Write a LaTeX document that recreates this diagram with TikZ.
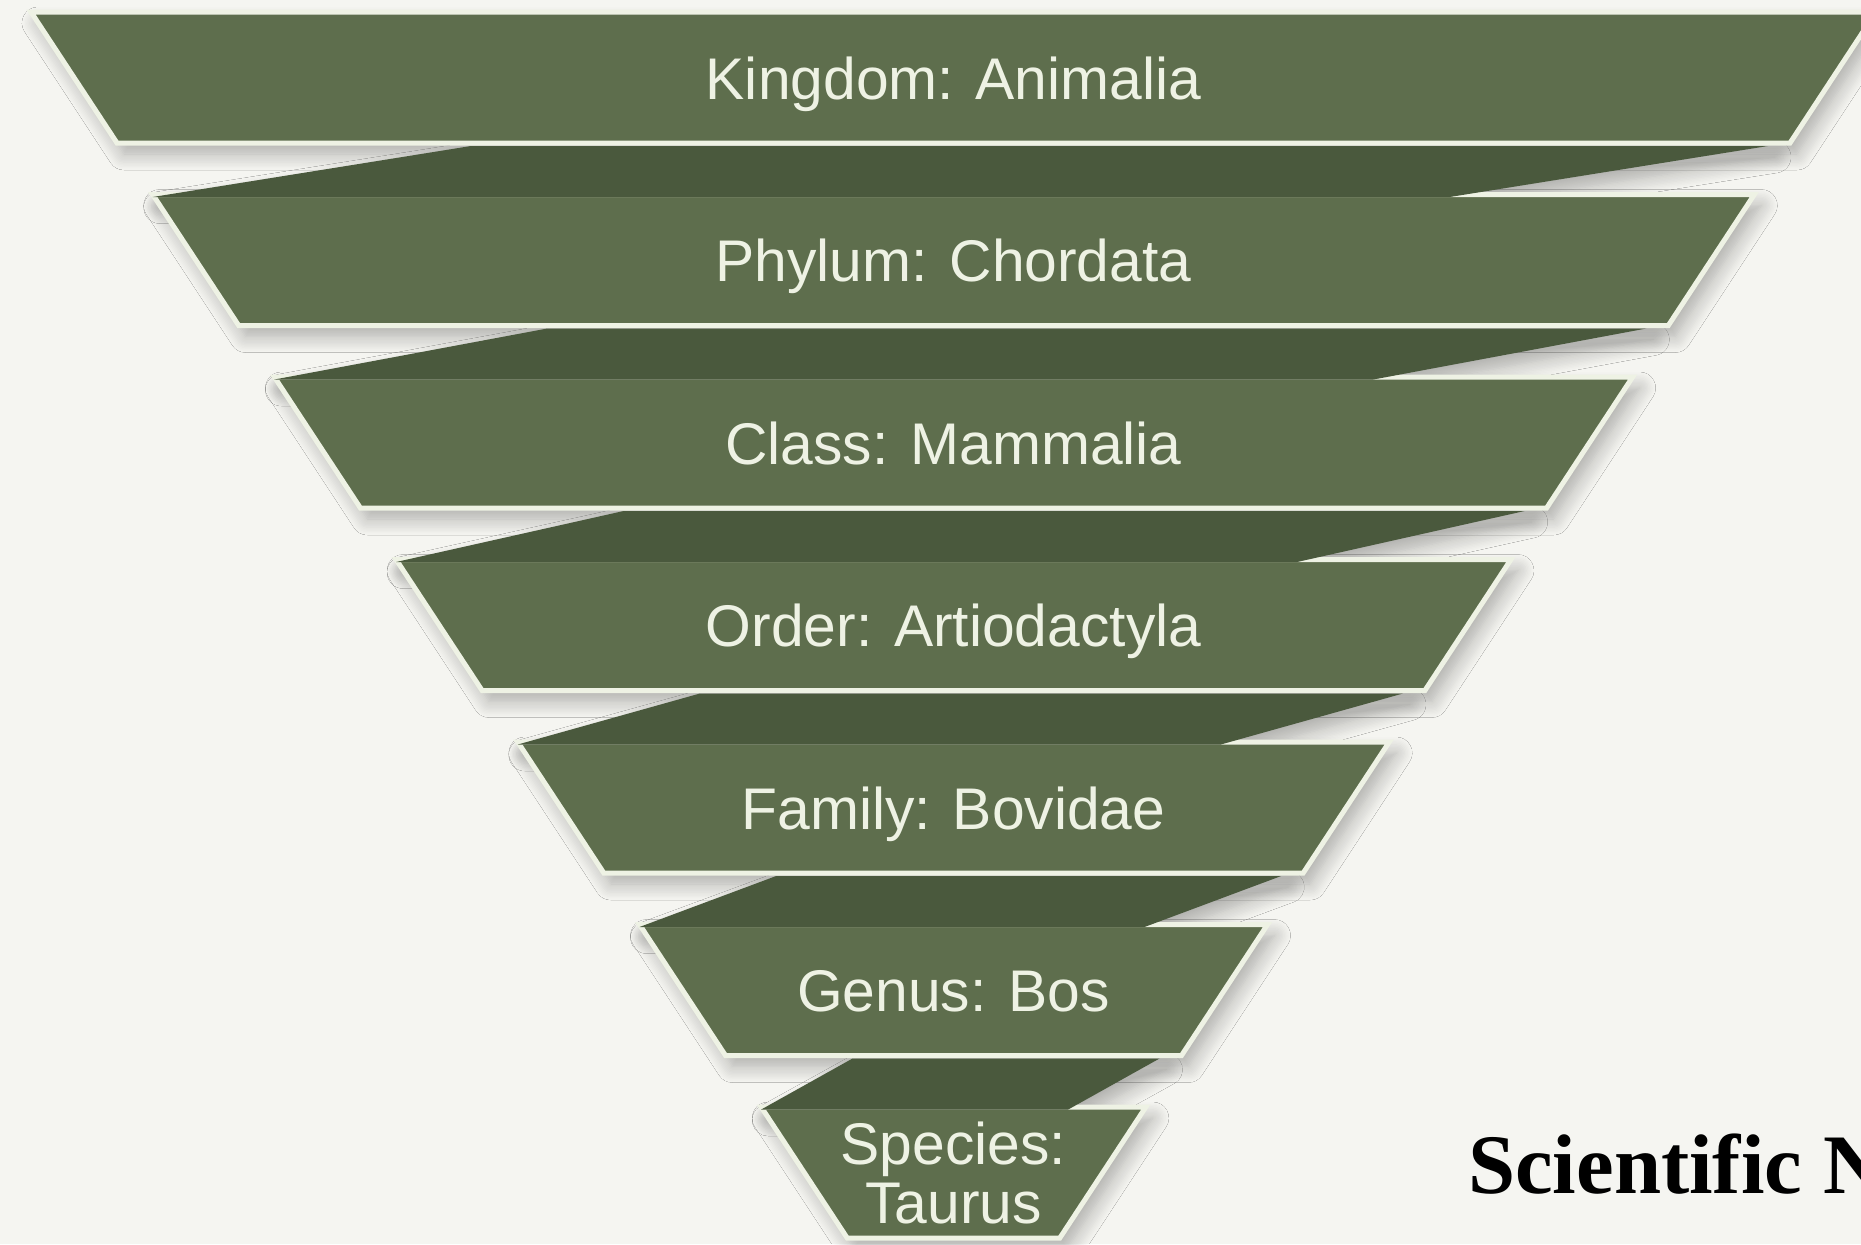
\documentclass[tikz,border=0pt]{standalone}
\usepackage{fontspec}
\setmainfont{Liberation Sans}
\newfontfamily\titlefont{Liberation Serif}
\usetikzlibrary{shadows.blur}
\definecolor{bgc}{HTML}{F5F5F1}
\definecolor{bandc}{HTML}{5E6E4D}
\definecolor{foldc}{HTML}{4A593D}
\definecolor{creamc}{HTML}{EEF2E4}
\tikzset{
  bandshape/.style={fill=bandc, draw=creamc, line width=5bp, line join=miter},
  foldshape/.style={fill=foldc},
  shadowshape/.style={blur shadow={shadow xshift=7bp, shadow yshift=-11bp, shadow blur radius=16bp, shadow blur steps=12, shadow opacity=30}},
  lbl/.style={text=creamc, font=\fontsize{59}{59}\selectfont, inner sep=0pt, anchor=base},
  titlelbl/.style={text=black, font=\titlefont\bfseries\fontsize{85}{100}\selectfont, inner sep=0pt, anchor=base west}
}
\begin{document}
\begin{tikzpicture}[x=1bp,y=-1bp]
\fill[bgc] (0,0) rectangle (1861,1244);
\useasboundingbox (0,0) rectangle (1861,1244);
% shadows
\foreach \i in {1,...,7} {
  \pgfmathsetmacro{\T}{12+182.5*(\i-1)}
  \pgfmathsetmacro{\B}{\T+131}
  \pgfmathsetmacro{\hT}{922.5-121.7*(\i-1)}
  \pgfmathsetmacro{\hB}{\hT-86}
  \path[shadowshape] (953.5-\hT,\T) -- (953.5+\hT,\T) -- (953.5+\hB,\B) -- (953.5-\hB,\B) -- cycle;
}
\foreach \i in {1,...,6} {
  \pgfmathsetmacro{\B}{12+182.5*(\i-1)+131}
  \pgfmathsetmacro{\Tn}{12+182.5*\i}
  \pgfmathsetmacro{\hB}{922.5-121.7*(\i-1)-86}
  \pgfmathsetmacro{\hTn}{922.5-121.7*\i}
  \pgfmathsetmacro{\w}{1297-198*(\i-1)}
  \pgfmathsetmacro{\TR}{953.5+\hB-22}
  \pgfmathsetmacro{\BL}{953.5-\hTn}
  \path[shadowshape] (\TR-\w,\B+3) -- (\TR,\B+3) -- (\BL+\w,\Tn+2) -- (\BL,\Tn+2) -- cycle;
}
% bands
\foreach \i in {1,...,7} {
  \pgfmathsetmacro{\T}{12+182.5*(\i-1)}
  \pgfmathsetmacro{\B}{\T+131}
  \pgfmathsetmacro{\hT}{922.5-121.7*(\i-1)}
  \pgfmathsetmacro{\hB}{\hT-86}
  \path[bandshape] (953.5-\hT,\T) -- (953.5+\hT,\T) -- (953.5+\hB,\B) -- (953.5-\hB,\B) -- cycle;
}
% folds
\foreach \i in {1,...,6} {
  \pgfmathsetmacro{\B}{12+182.5*(\i-1)+131}
  \pgfmathsetmacro{\Tn}{12+182.5*\i}
  \pgfmathsetmacro{\hB}{922.5-121.7*(\i-1)-86}
  \pgfmathsetmacro{\hTn}{922.5-121.7*\i}
  \pgfmathsetmacro{\w}{1297-198*(\i-1)}
  \pgfmathsetmacro{\TR}{953.5+\hB-22}
  \pgfmathsetmacro{\BL}{953.5-\hTn}
  \path[foldshape] (\TR-\w,\B+3) -- (\TR,\B+3) -- (\BL+\w,\Tn+2.5) -- (\BL,\Tn+2.5) -- cycle;
}
% labels
\node[lbl] (k1) at (953.5,99) {Kingdom: Animalia};
\node[lbl] (k2) at (953.5,281.5) {Phylum: Chordata};
\node[lbl] (k3) at (953.5,464) {Class: Mammalia};
\node[lbl] (k4) at (953.5,646.5) {Order: Artiodactyla};
\node[lbl] (k5) at (953.5,829) {Family: Bovidae};
\node[lbl] (k6) at (953.5,1011.5) {Genus: Bos};
\node[lbl] (k7) at (953.5,1164) {Species:};
\node[lbl] (k7b) at (953.5,1223) {Taurus};
\node[titlelbl] (sn) at (1468,1193) {Scientific N};
\end{tikzpicture}
\end{document}
